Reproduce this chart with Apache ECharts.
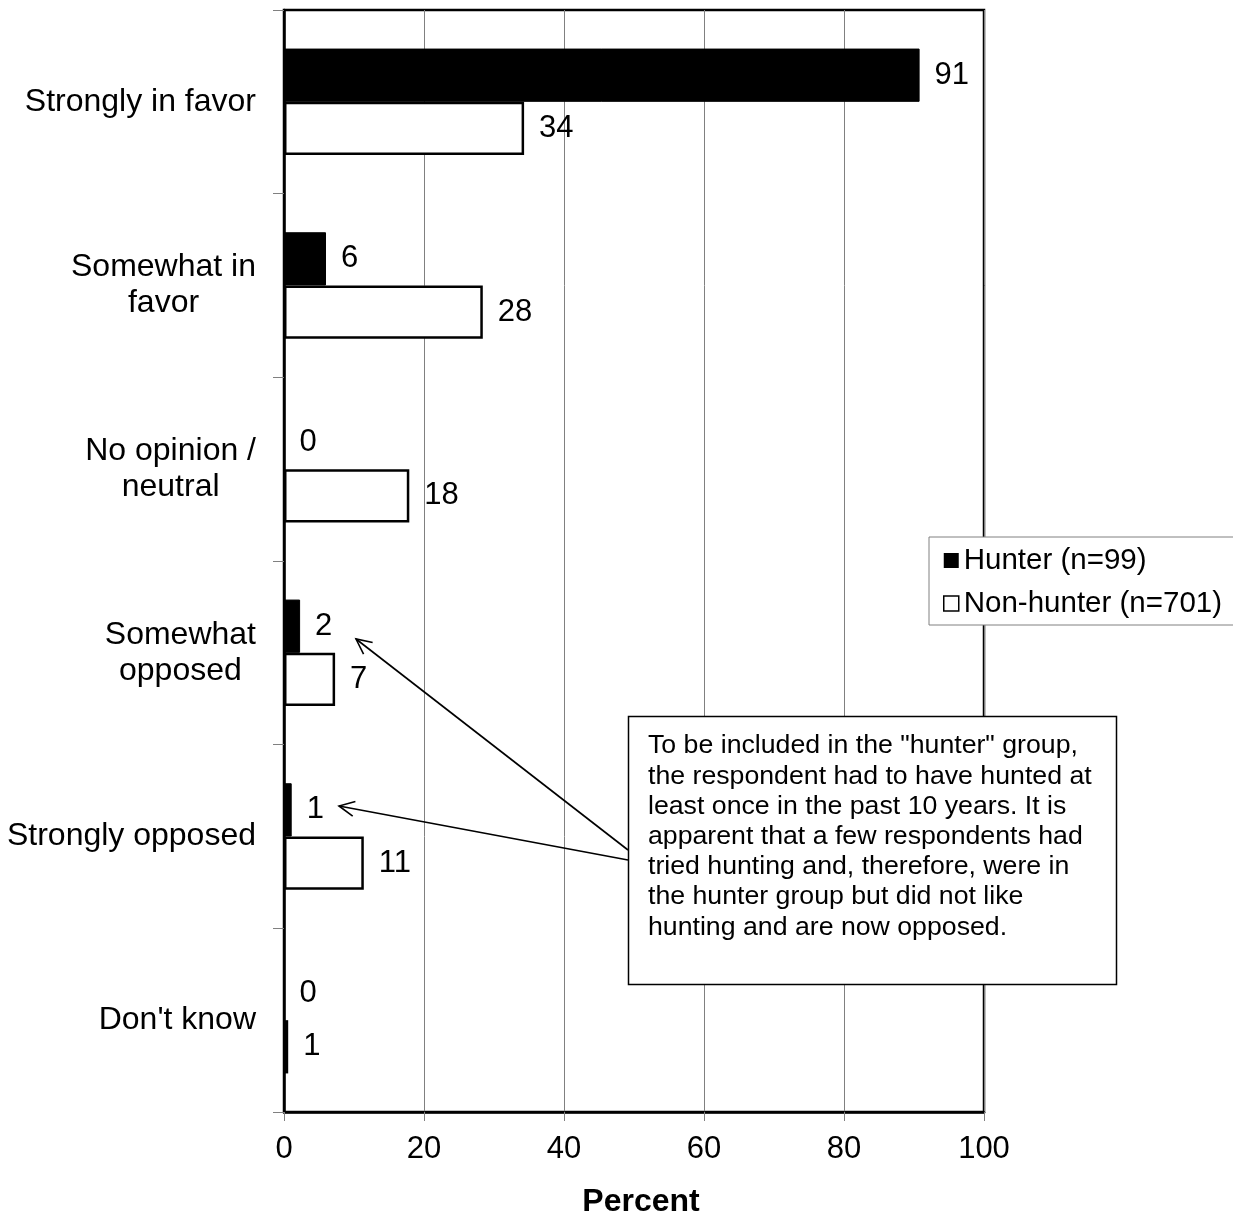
<!DOCTYPE html>
<html>
<head>
<meta charset="utf-8">
<script src="https://cdn.jsdelivr.net/npm/echarts@6/dist/echarts.min.js"></script>
<style>
html,body{margin:0;padding:0;background:#fff;}
#chart{width:1233px;height:1223px;}
</style>
</head>
<body>
<div id="chart"></div>
<script>
var categories = ['Strongly in favor', 'Somewhat in\nfavor', 'No opinion /\nneutral', 'Somewhat\nopposed', 'Strongly opposed', "Don't know"];
var hunterValues = [90.8, 6.0, 0, 2.3, 1.1, 0];
var nonHunterValues = [34.3, 28.4, 17.9, 7.3, 11.4, 0.6];
var seriesNames = ['Hunter (n=99)', 'Non-hunter (n=701)'];
var xTicks = [0, 20, 40, 60, 80, 100];
var axisTitle = 'Percent';
var noteText = 'To be included in the "hunter" group,\nthe respondent had to have hunted at\nleast once in the past 10 years. It is\napparent that a few respondents had\ntried hunting and, therefore, were in\nthe hunter group but did not like\nhunting and are now opposed.';

var FONT = '"Liberation Sans", Arial, Helvetica, sans-serif';
var chart = echarts.init(document.getElementById('chart'), null, {renderer: 'canvas'});

var labelCommon = {
  show: true, position: 'right', distance: 15,
  fontFamily: FONT, fontSize: 31, color: '#000',
  formatter: function (p) { return Math.round(p.value); }
};

function arrow(x1, y1, x2, y2) {
  var ang = Math.atan2(y1 - y2, x1 - x2);
  var L = 17, a = 0.45;
  return [
    {type: 'line', shape: {x1: x1, y1: y1, x2: x2, y2: y2}, style: {stroke: '#000', lineWidth: 1.6}, z: 100},
    {type: 'polyline', shape: {points: [
      [x2 + L * Math.cos(ang + a), y2 + L * Math.sin(ang + a)],
      [x2, y2],
      [x2 + L * Math.cos(ang - a), y2 + L * Math.sin(ang - a)]
    ]}, style: {stroke: '#000', lineWidth: 1.6, fill: null}, z: 100}
  ];
}

var option = {
  backgroundColor: '#fff',
  animation: false,
  grid: {left: 284, right: 249, top: 10, bottom: 109, show: true, borderColor: '#000', borderWidth: 2.5, backgroundColor: 'transparent'},
  legend: {
    orient: 'vertical', left: 929, top: 537,
    data: [
      {name: seriesNames[0], icon: 'rect', itemStyle: {color: '#000', borderColor: '#000', borderWidth: 0}},
      {name: seriesNames[1], icon: 'rect', itemStyle: {color: '#fff', borderColor: '#000', borderWidth: 1.5}}
    ],
    itemWidth: 15, itemHeight: 15, itemGap: 12,
    padding: [8, 16, 6, 14],
    backgroundColor: '#fff', borderColor: '#808080', borderWidth: 1,
    textStyle: {fontFamily: FONT, fontSize: 29.5, color: '#000', lineHeight: 31},
    z: 50
  },
  xAxis: {
    type: 'value', min: 0, max: 100, interval: 20,
    name: axisTitle, nameLocation: 'middle', nameGap: 74,
    nameTextStyle: {fontFamily: FONT, fontSize: 32, fontWeight: 'bold', color: '#000', padding: [0, 0, 0, 14]},
    axisLine: {show: true, lineStyle: {color: '#000', width: 2.5}},
    axisTick: {show: true, length: 9, lineStyle: {color: '#808080', width: 1}},
    axisLabel: {margin: 22, fontFamily: FONT, fontSize: 31, color: '#000',
      formatter: function (v) { return xTicks.indexOf(v) >= 0 ? String(v) : ''; }},
    splitLine: {show: true, lineStyle: {color: '#808080', width: 1}}
  },
  yAxis: {
    type: 'category', data: categories, inverse: true,
    axisLine: {show: true, lineStyle: {color: '#000', width: 2.5}},
    axisTick: {show: true, length: 11, lineStyle: {color: '#808080', width: 1}},
    axisLabel: {
      margin: 28, align: 'right', fontFamily: FONT, fontSize: 32, color: '#000', lineHeight: 36,
      formatter: function (v) { return v.split('\n').map(function (l) { return '{c|' + l + '}'; }).join('\n'); },
      rich: {c: {align: 'center', fontFamily: FONT, fontSize: 32, color: '#000', lineHeight: 36}}
    },
    splitLine: {show: false}
  },
  series: [
    {
      name: seriesNames[0], type: 'bar', data: hunterValues,
      barGap: '0%', barCategoryGap: '42%',
      itemStyle: {color: '#000', borderColor: '#000', borderWidth: 1},
      label: labelCommon
    },
    {
      name: seriesNames[1], type: 'bar', data: nonHunterValues,
      barGap: '0%', barCategoryGap: '42%',
      itemStyle: {color: '#fff', borderColor: '#000', borderWidth: 2.5},
      label: labelCommon
    }
  ],
  graphic: [
    {type: 'rect', shape: {x: 628.5, y: 716.5, width: 488, height: 268}, style: {fill: '#fff', stroke: '#000', lineWidth: 1.5}, z: 100},
    {type: 'text', x: 648, y: 731, style: {text: noteText, fontFamily: FONT, fontSize: 26.7, lineHeight: 30.2, fill: '#000'}, z: 101}
  ].concat(arrow(628, 850, 356, 639)).concat(arrow(628, 860, 339, 806))
};
chart.setOption(option);
</script>
</body>
</html>
